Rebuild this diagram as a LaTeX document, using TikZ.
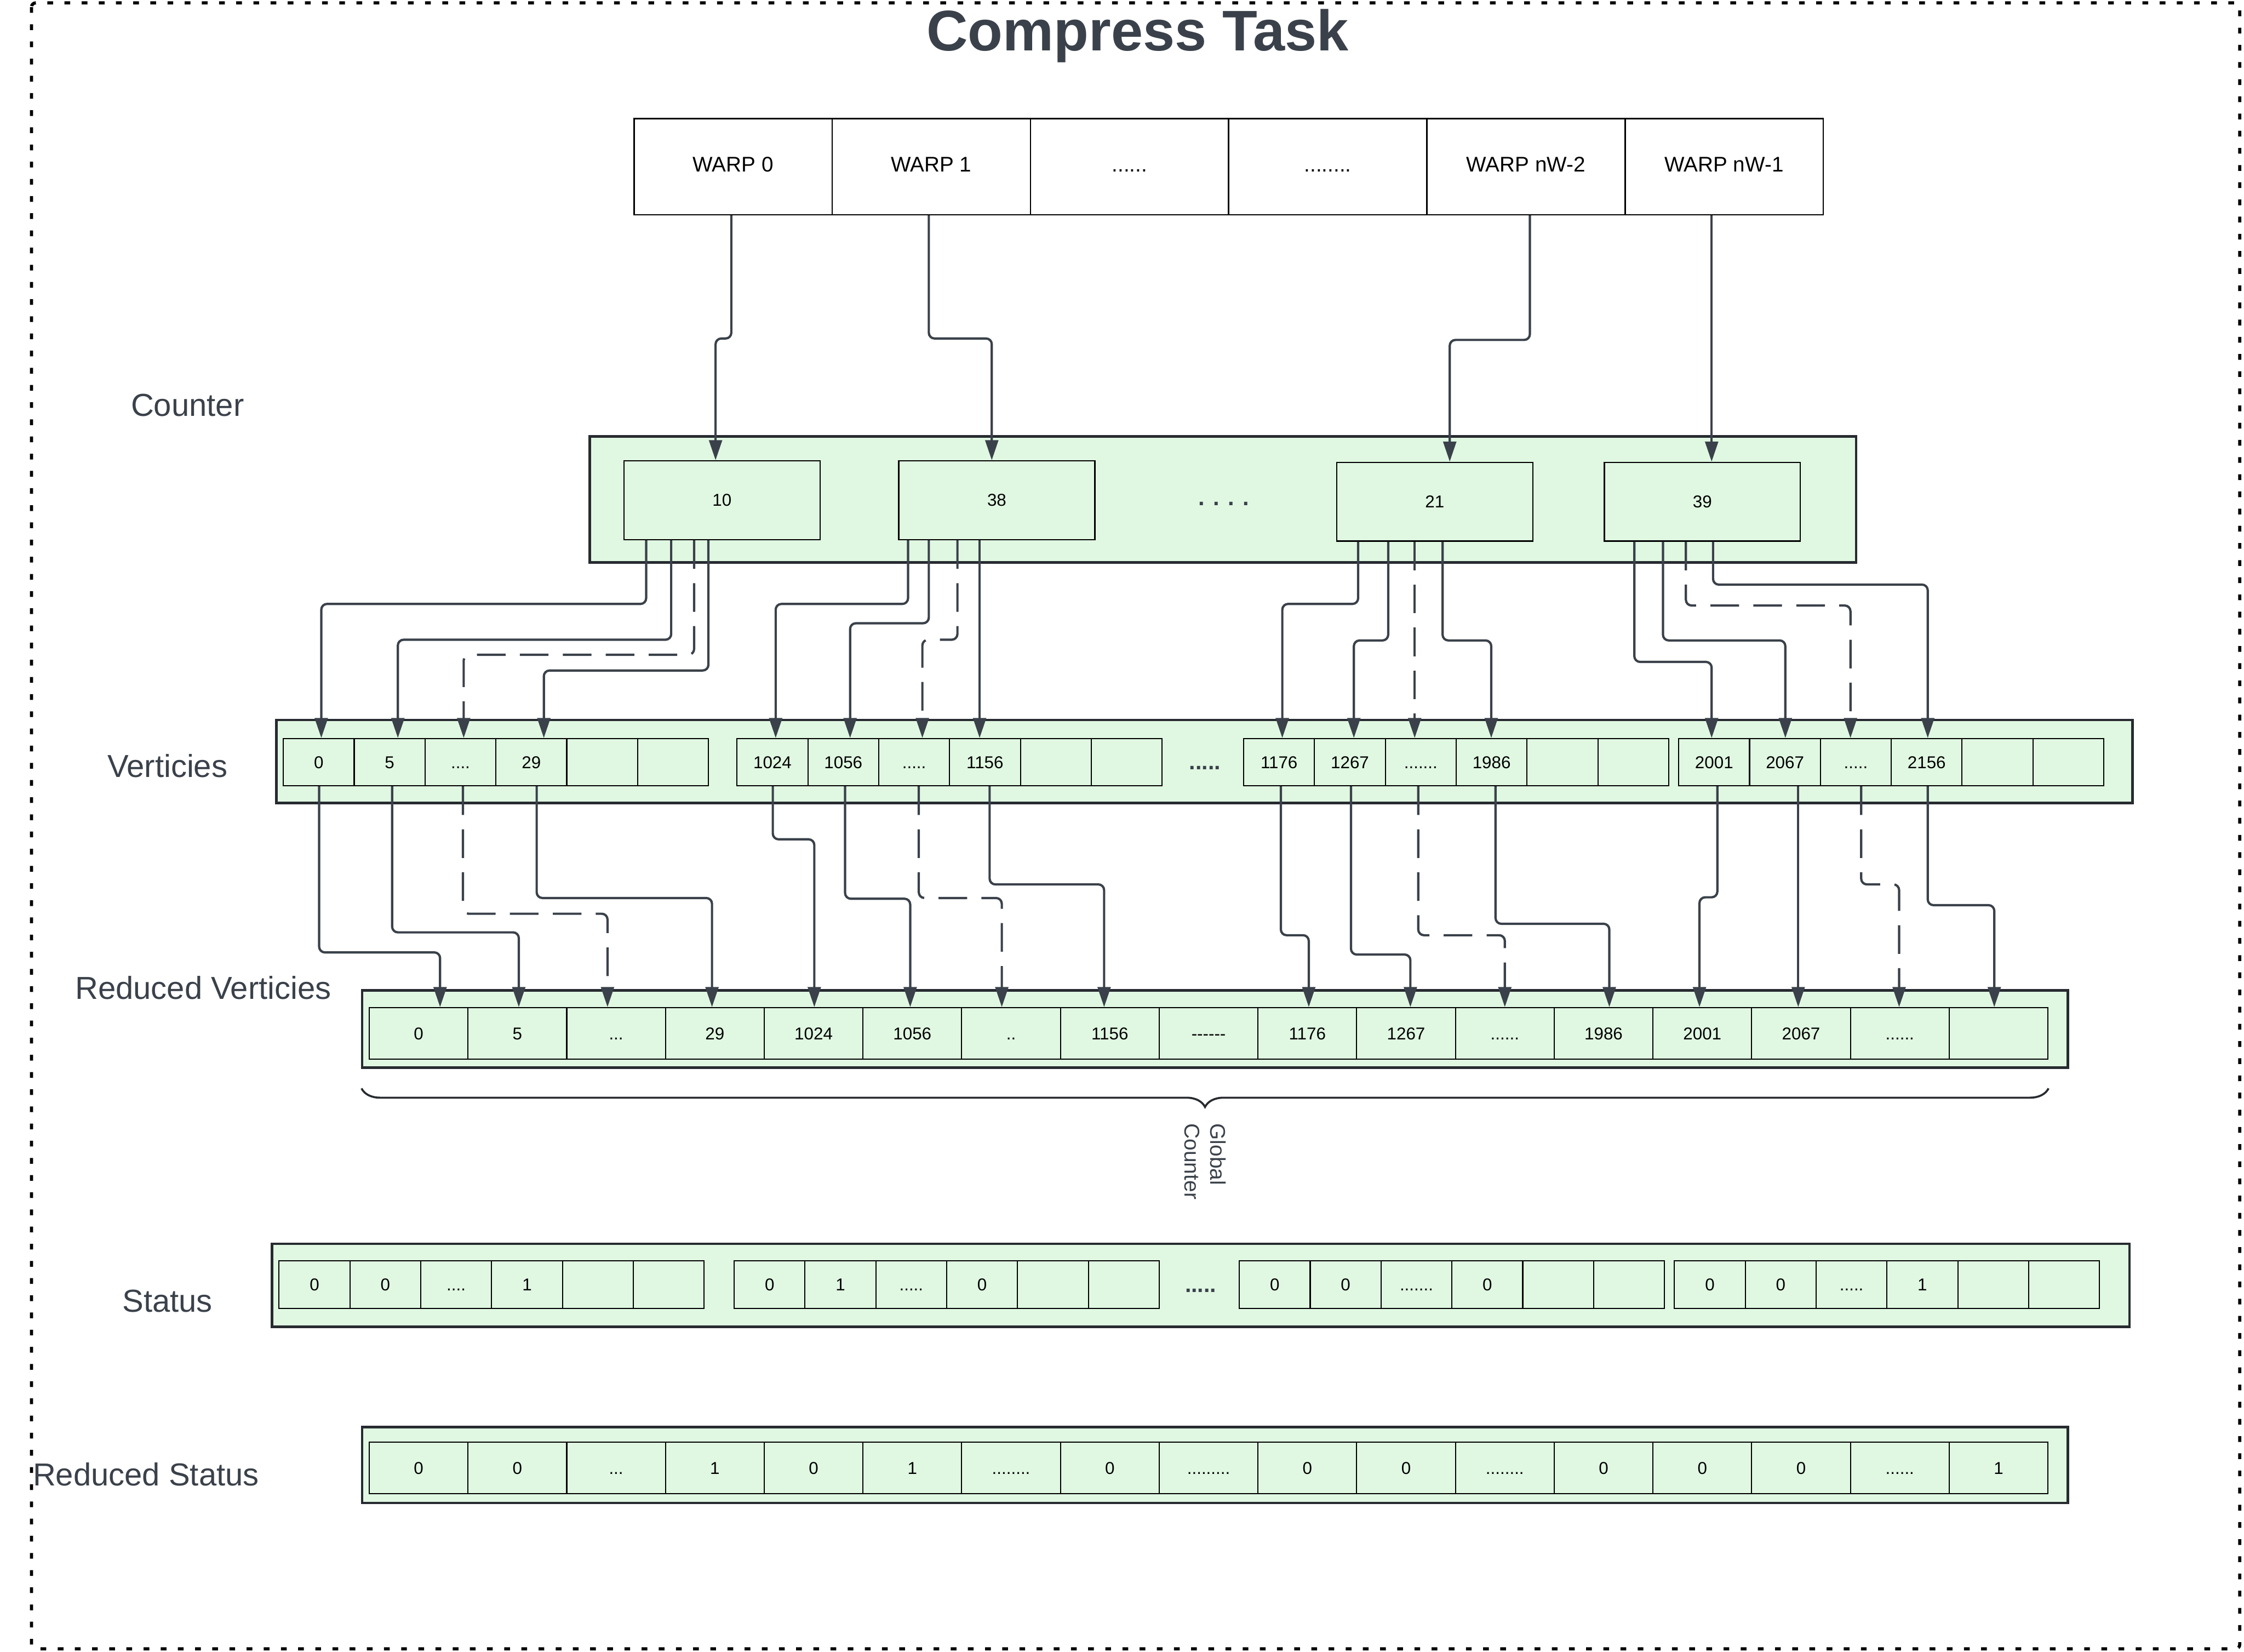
\documentclass[tikz,border=0pt]{standalone}
\usepackage{fontspec}
\setmainfont{Liberation Sans}
\usepackage{tikz}
\usetikzlibrary{arrows.meta,calc,decorations.pathreplacing}

\definecolor{slate}{HTML}{3A414A}
\definecolor{edge}{HTML}{272B30}
\definecolor{mint}{HTML}{E0F8E2}

\tikzset{
    tray/.style={draw=edge, line width=0.9pt, fill=mint},
    cell/.style={draw=black, line width=0.4pt, fill=mint, inner sep=0pt, minimum width=24.75pt, minimum height=16.5pt, text height=4.3pt, text depth=0pt, font=\fontsize{6}{7}\selectfont},
    rcell/.style={cell, minimum width=34.5pt, minimum height=18pt},
    warp/.style={draw=black, line width=0.5pt, fill=white, inner sep=0pt, minimum width=69.25pt, minimum height=33.5pt, text height=5.3pt, text depth=1.6pt, font=\fontsize{7.4}{9}\selectfont},
    tally/.style={draw=black, line width=0.45pt, fill=mint, inner sep=0pt, minimum width=68.5pt, minimum height=27.5pt, font=\fontsize{6}{7}\selectfont},
    tag/.style={text=slate, font=\fontsize{11.1}{13}\selectfont},
    gapdots/.style={text=slate, font=\bfseries\fontsize{7.9}{9}\selectfont},
    flow/.style={draw=slate, line width=0.8pt, rounded corners=2pt, -{Triangle[length=7pt,width=4.5pt]}},
    flowdash/.style={flow, dash pattern=on 10pt off 5pt}
}

\begin{document}
                \begin{tikzpicture}[x=0.5pt, y=-0.5pt]
                    \useasboundingbox (0,0) rectangle (1568,1154);
                    \draw[black, line width=1.1pt, dash pattern=on 2pt off 4pt, rounded corners=1.5pt] (22,2) rectangle (1565,1152);
                    \node[text=slate, font=\bfseries\fontsize{20}{24}\selectfont] (title) at (795,25) {Compress Task};

                    \node[warp] (w0) at (512.25,116.5) {WARP 0};
                    \node[warp] (w1) at (650.75,116.5) {WARP 1};
                    \node[warp] (w2) at (789.25,116.5) {......};
                    \node[warp] (w3) at (927.75,116.5) {........};
                    \node[warp] (w4) at (1066.25,116.5) {WARP nW-2};
                    \node[warp] (w5) at (1204.75,116.5) {WARP nW-1};

                    \node[tag] (lcount) at (131,283) {Counter};
                    \node[tag] (lvert) at (117,535) {Verticies};
                    \node[tag] (lrvert) at (142,690) {Reduced Verticies};
                    \node[tag] (lstat) at (117,909) {Status};
                    \node[tag] (lrstat) at (102,1030) {Reduced Status};

                    \draw[tray] (412,305) rectangle (1297,393);
                    \draw[tray] (193,503) rectangle (1490,561);
                    \draw[tray] (253,692) rectangle (1445,746);
                    \draw[tray] (190,869) rectangle (1488,927);
                    \draw[tray] (253,997) rectangle (1445,1050);

                    \node[tally] (c10) at (504.5,349.5) {10};
                    \node[tally] (c38) at (696.5,349.5) {38};
                    \node[text=slate, font=\bfseries\fontsize{8}{9}\selectfont] (cgap) at (855,352) {. . . .};
                    \node[tally] (c21) at (1002.5,350.5) {21};
                    \node[tally] (c39) at (1189.5,350.5) {39};

                    \node[cell] (v11) at (222.75,532.5) {0};
                    \node[cell] (v12) at (272.25,532.5) {5};
                    \node[cell] (v13) at (321.75,532.5) {....};
                    \node[cell] (v14) at (371.25,532.5) {29};
                    \node[cell] (v15) at (420.75,532.5) {};
                    \node[cell] (v16) at (470.25,532.5) {};
                    \node[cell] (v21) at (539.75,532.5) {1024};
                    \node[cell] (v22) at (589.25,532.5) {1056};
                    \node[cell] (v23) at (638.75,532.5) {.....};
                    \node[cell] (v24) at (688.25,532.5) {1156};
                    \node[cell] (v25) at (737.75,532.5) {};
                    \node[cell] (v26) at (787.25,532.5) {};
                    \node[gapdots] (vgap) at (842,536.5) {.....};
                    \node[cell] (v31) at (893.75,532.5) {1176};
                    \node[cell] (v32) at (943.25,532.5) {1267};
                    \node[cell] (v33) at (992.75,532.5) {.......};
                    \node[cell] (v34) at (1042.25,532.5) {1986};
                    \node[cell] (v35) at (1091.75,532.5) {};
                    \node[cell] (v36) at (1141.25,532.5) {};
                    \node[cell] (v41) at (1197.75,532.5) {2001};
                    \node[cell] (v42) at (1247.25,532.5) {2067};
                    \node[cell] (v43) at (1296.75,532.5) {.....};
                    \node[cell] (v44) at (1346.25,532.5) {2156};
                    \node[cell] (v45) at (1395.75,532.5) {};
                    \node[cell] (v46) at (1445.25,532.5) {};

                    \node[rcell] (r1) at (292.5,722) {0};
                    \node[rcell] (r2) at (361.5,722) {5};
                    \node[rcell] (r3) at (430.5,722) {...};
                    \node[rcell] (r4) at (499.5,722) {29};
                    \node[rcell] (r5) at (568.5,722) {1024};
                    \node[rcell] (r6) at (637.5,722) {1056};
                    \node[rcell] (r7) at (706.5,722) {..};
                    \node[rcell] (r8) at (775.5,722) {1156};
                    \node[rcell] (r9) at (844.5,722) {-{}-{}-{}-{}-{}-};
                    \node[rcell] (r10) at (913.5,722) {1176};
                    \node[rcell] (r11) at (982.5,722) {1267};
                    \node[rcell] (r12) at (1051.5,722) {......};
                    \node[rcell] (r13) at (1120.5,722) {1986};
                    \node[rcell] (r14) at (1189.5,722) {2001};
                    \node[rcell] (r15) at (1258.5,722) {2067};
                    \node[rcell] (r16) at (1327.5,722) {......};
                    \node[rcell] (r17) at (1396.5,722) {};

                    \draw[edge, line width=0.7pt, decorate, decoration={brace, mirror, amplitude=6.5pt}] ($(r1.south west)+(-5,20)$) -- ($(r17.south east)+(0,20)$);
                    \node[text=slate, rotate=-90, align=left, font=\fontsize{7.45}{9}\selectfont] (gc) at (842,811.5) {Global\\Counter};

                    \node[cell] (s11) at (219.75,897.5) {0};
                    \node[cell] (s12) at (269.25,897.5) {0};
                    \node[cell] (s13) at (318.75,897.5) {....};
                    \node[cell] (s14) at (368.25,897.5) {1};
                    \node[cell] (s15) at (417.75,897.5) {};
                    \node[cell] (s16) at (467.25,897.5) {};
                    \node[cell] (s21) at (537.75,897.5) {0};
                    \node[cell] (s22) at (587.25,897.5) {1};
                    \node[cell] (s23) at (636.75,897.5) {.....};
                    \node[cell] (s24) at (686.25,897.5) {0};
                    \node[cell] (s25) at (735.75,897.5) {};
                    \node[cell] (s26) at (785.25,897.5) {};
                    \node[gapdots] (sgap) at (839,901.5) {.....};
                    \node[cell] (s31) at (890.75,897.5) {0};
                    \node[cell] (s32) at (940.25,897.5) {0};
                    \node[cell] (s33) at (989.75,897.5) {.......};
                    \node[cell] (s34) at (1039.25,897.5) {0};
                    \node[cell] (s35) at (1088.75,897.5) {};
                    \node[cell] (s36) at (1138.25,897.5) {};
                    \node[cell] (s41) at (1194.75,897.5) {0};
                    \node[cell] (s42) at (1244.25,897.5) {0};
                    \node[cell] (s43) at (1293.75,897.5) {.....};
                    \node[cell] (s44) at (1343.25,897.5) {1};
                    \node[cell] (s45) at (1392.75,897.5) {};
                    \node[cell] (s46) at (1442.25,897.5) {};

                    \node[rcell] (q1) at (292.5,1025.5) {0};
                    \node[rcell] (q2) at (361.5,1025.5) {0};
                    \node[rcell] (q3) at (430.5,1025.5) {...};
                    \node[rcell] (q4) at (499.5,1025.5) {1};
                    \node[rcell] (q5) at (568.5,1025.5) {0};
                    \node[rcell] (q6) at (637.5,1025.5) {1};
                    \node[rcell] (q7) at (706.5,1025.5) {........};
                    \node[rcell] (q8) at (775.5,1025.5) {0};
                    \node[rcell] (q9) at (844.5,1025.5) {.........};
                    \node[rcell] (q10) at (913.5,1025.5) {0};
                    \node[rcell] (q11) at (982.5,1025.5) {0};
                    \node[rcell] (q12) at (1051.5,1025.5) {........};
                    \node[rcell] (q13) at (1120.5,1025.5) {0};
                    \node[rcell] (q14) at (1189.5,1025.5) {0};
                    \node[rcell] (q15) at (1258.5,1025.5) {0};
                    \node[rcell] (q16) at (1327.5,1025.5) {......};
                    \node[rcell] (q17) at (1396.5,1025.5) {1};

                    \draw[flow] ($(w0.south)+(-1.25,0)$) -- ++(0,86) -| ($(c10.north)+(-4.5,0)$);
                    \draw[flow] ($(w1.south)+(-1.75,0)$) -- ++(0,86) -| ($(c38.north)+(-3.5,0)$);
                    \draw[flow] ($(w4.south)+(2.75,0)$) -- ++(0,87) -| ($(c21.north)+(10.5,0)$);
                    \draw[flow] ($(w5.south)+(-8.75,0)$) -- ($(c39.north)+(6.5,0)$);

                    \draw[flow] ($(c10.south)+(-53,0)$) -- ++(0,44.5) -| ($(v11.north)+(1.75,0)$);
                    \draw[flow] ($(c10.south)+(-35.5,0)$) -- ++(0,69.5) -| ($(v12.north)+(5.75,0)$);
                    \draw[flowdash] ($(c10.south)+(-19.5,0)$) -- ++(0,80) -| ($(v13.north)+(2.25,0)$);
                    \draw[flow] ($(c10.south)+(-9.5,0)$) -- ++(0,91) -| ($(v14.north)+(8.75,0)$);
                    \draw[flow] ($(c38.south)+(-62,0)$) -- ++(0,44.5) -| ($(v21.north)+(2.25,0)$);
                    \draw[flow] ($(c38.south)+(-47.5,0)$) -- ++(0,58) -| ($(v22.north)+(4.75,0)$);
                    \draw[flowdash] ($(c38.south)+(-27.5,0)$) -- ++(0,69.5) -| ($(v23.north)+(5.75,0)$);
                    \draw[flow] ($(c38.south)+(-12,0)$) -- ($(v24.north)+(-3.75,0)$);
                    \draw[flow] ($(c21.south)+(-53.5,0)$) -- ++(0,43.5) -| ($(v31.north)+(2.25,0)$);
                    \draw[flow] ($(c21.south)+(-32.5,0)$) -- ++(0,69) -| ($(v32.north)+(2.75,0)$);
                    \draw[flowdash] ($(c21.south)+(-14,0)$) -- ($(v33.north)+(-4.25,0)$);
                    \draw[flow] ($(c21.south)+(5.5,0)$) -- ++(0,69) -| ($(v34.north)+(-0.25,0)$);
                    \draw[flow] ($(c39.south)+(-47.5,0)$) -- ++(0,84) -| ($(v41.north)+(-1.75,0)$);
                    \draw[flow] ($(c39.south)+(-27.5,0)$) -- ++(0,69) -| ($(v42.north)+(0.25,0)$);
                    \draw[flowdash] ($(c39.south)+(-11.5,0)$) -- ++(0,44.6) -| ($(v43.north)+(-3.75,0)$);
                    \draw[flow] ($(c39.south)+(7.5,0)$) -- ++(0,30) -| ($(v44.north)+(0.75,0)$);

                    \draw[flow] ($(v11.south)+(0.25,0)$) -- ++(0,116) -| ($(r1.north)+(15,0)$);
                    \draw[flow] ($(v12.south)+(1.75,0)$) -- ++(0,102) -| ($(r2.north)+(1,0)$);
                    \draw[flowdash] ($(v13.south)+(1.75,0)$) -- ++(0,89) -| ($(r3.north)+(-6,0)$);
                    \draw[flow] ($(v14.south)+(3.75,0)$) -- ++(0,78) -| ($(r4.north)+(-2,0)$);
                    \draw[flow] ($(v21.south)+(0.25,0)$) -- ++(0,37) -| ($(r5.north)+(0.5,0)$);
                    \draw[flow] ($(v22.south)+(1.25,0)$) -- ++(0,78.5) -| ($(r6.north)+(-1.5,0)$);
                    \draw[flowdash] ($(v23.south)+(3.25,0)$) -- ++(0,78) -| ($(r7.north)+(-6.5,0)$);
                    \draw[flow] ($(v24.south)+(3.25,0)$) -- ++(0,68.5) -| ($(r8.north)+(-4,0)$);
                    \draw[flow] ($(v31.south)+(1.25,0)$) -- ++(0,104) -| ($(r10.north)+(1,0)$);
                    \draw[flow] ($(v32.south)+(0.75,0)$) -- ++(0,117.5) -| ($(r11.north)+(3,0)$);
                    \draw[flowdash] ($(v33.south)+(-1.75,0)$) -- ++(0,104) -| (r12.north);
                    \draw[flow] ($(v34.south)+(2.75,0)$) -- ++(0,96) -| ($(r13.north)+(4,0)$);
                    \draw[flow] ($(v41.south)+(2.25,0)$) -- ++(0,77.5) -| ($(r14.north)+(-2,0)$);
                    \draw[flow] ($(v42.south)+(9.25,0)$) -- ($(r15.north)+(-2,0)$);
                    \draw[flowdash] ($(v43.south)+(3.75,0)$) -- ++(0,68.5) -| ($(r16.north)+(-0.5,0)$);
                    \draw[flow] ($(v44.south)+(0.75,0)$) -- ++(0,83) -| ($(r17.north)+(-3,0)$);
                \end{tikzpicture}
\end{document}
